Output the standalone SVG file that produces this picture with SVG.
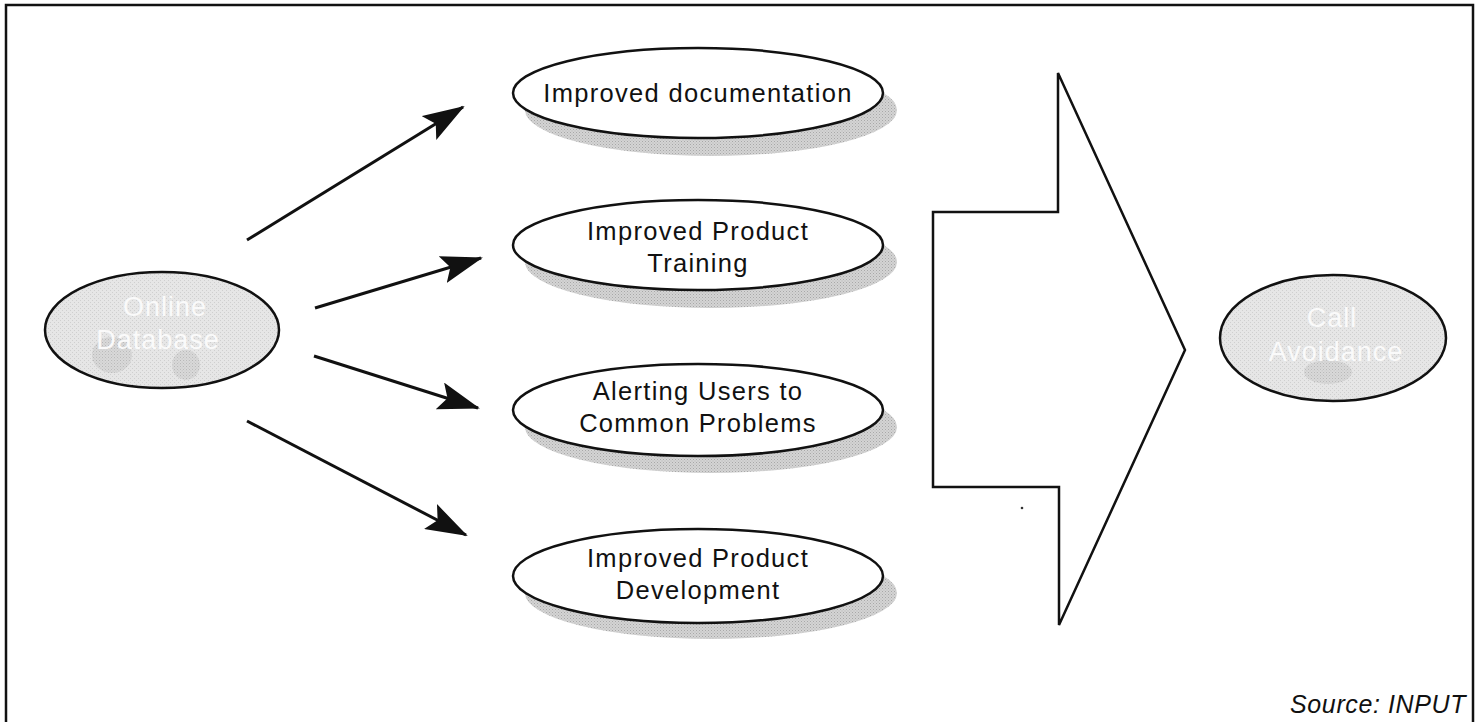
<svg xmlns="http://www.w3.org/2000/svg" width="1478" height="722" viewBox="0 0 1478 722">
<style>
.lbl{font-family:"Liberation Sans",Arial,sans-serif;font-size:25.5px;fill:#111;text-anchor:middle;letter-spacing:1.3px}
.faint{font-family:"Liberation Sans",Arial,sans-serif;font-size:27px;fill:#fafafa;text-anchor:middle;letter-spacing:1px}
.oval{fill:#fff;stroke:#111;stroke-width:2.5}
.goval{fill:url(#stip);stroke:#111;stroke-width:2.5}
.shadow{fill:url(#shad)}
.blob{fill:url(#shad);opacity:0.7}
.conn{stroke:#111;stroke-width:3;fill:none;marker-end:url(#ah)}
</style>
<defs>
<pattern id="stip" width="4" height="4" patternUnits="userSpaceOnUse">
<rect width="4" height="4" fill="#e6e6e6"/>
<rect x="0" y="0" width="1" height="1" fill="#cfcfcf"/>
<rect x="2" y="2" width="1" height="1" fill="#cfcfcf"/>
</pattern>
<pattern id="shad" width="3" height="3" patternUnits="userSpaceOnUse">
<rect width="3" height="3" fill="#d4d4d4"/>
<rect x="0" y="0" width="1" height="1" fill="#a8a8a8"/>
<rect x="1.5" y="1.5" width="1" height="1" fill="#b4b4b4"/>
</pattern>
<marker id="ah" viewBox="0 0 42 28" refX="40" refY="14" markerWidth="42" markerHeight="28" markerUnits="userSpaceOnUse" orient="auto">
<path d="M0,0 L42,14 L0,28 L8,14 Z" fill="#111"/>
</marker>
</defs>
<rect x="6" y="5" width="1467" height="720" fill="#fff" stroke="#111" stroke-width="2.5"/>

<g id="connectors">
<line class="conn" x1="247" y1="240" x2="463" y2="107"/>
<line class="conn" x1="315" y1="308" x2="481" y2="258"/>
<line class="conn" x1="314" y1="356" x2="478" y2="408"/>
<line class="conn" x1="247" y1="421" x2="466" y2="535"/>
</g>

<g id="online-database">
<ellipse class="goval" cx="162" cy="330" rx="117" ry="58"/>
<ellipse class="blob" cx="112" cy="355" rx="20" ry="18"/>
<ellipse class="blob" cx="186" cy="365" rx="14" ry="15"/>
<text class="faint" x="165" y="316">Online</text>
<text class="faint" x="158" y="349">Database</text>
</g>

<g id="node-documentation">
<ellipse class="shadow" cx="711" cy="110" rx="186" ry="46"/>
<ellipse class="oval" cx="698" cy="93" rx="185" ry="45"/>
<text class="lbl" x="698" y="102">Improved documentation</text>
</g>

<g id="node-training">
<ellipse class="shadow" cx="711" cy="262" rx="186" ry="46"/>
<ellipse class="oval" cx="698" cy="245" rx="185" ry="45"/>
<text class="lbl" x="698" y="240">Improved Product</text>
<text class="lbl" x="698" y="272">Training</text>
</g>

<g id="node-alerting">
<ellipse class="shadow" cx="711" cy="427" rx="186" ry="46"/>
<ellipse class="oval" cx="698" cy="410" rx="185" ry="46"/>
<text class="lbl" x="698" y="400">Alerting Users to</text>
<text class="lbl" x="698" y="432">Common Problems</text>
</g>

<g id="node-development">
<ellipse class="shadow" cx="711" cy="593" rx="186" ry="46"/>
<ellipse class="oval" cx="698" cy="576" rx="185" ry="47"/>
<text class="lbl" x="698" y="567">Improved Product</text>
<text class="lbl" x="698" y="599">Development</text>
</g>

<g id="big-arrow">
<polygon points="933,212 1058,212 1058,73 1185,350 1059,625 1059,487 933,487" fill="#fff" stroke="#111" stroke-width="2.5" stroke-linejoin="miter"/>
<circle cx="1022" cy="508" r="1.3" fill="#333"/>
</g>

<g id="call-avoidance">
<ellipse class="goval" cx="1333" cy="338" rx="113" ry="63"/>
<ellipse class="blob" cx="1328" cy="372" rx="24" ry="12"/>
<text class="faint" x="1332" y="327">Call</text>
<text class="faint" x="1336" y="361">Avoidance</text>
</g>

<text x="1466" y="713" font-family="'Liberation Sans',Arial,sans-serif" font-size="25" font-style="italic" fill="#111" text-anchor="end" letter-spacing="0.6">Source: INPUT</text>
</svg>
